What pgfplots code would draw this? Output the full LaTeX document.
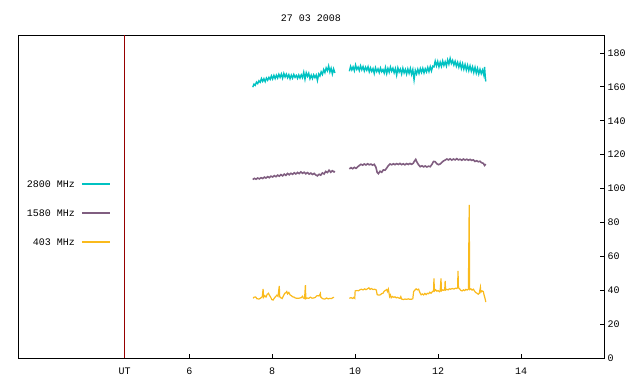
\documentclass[border=0pt]{standalone}
\usepackage{fontspec}
\setmainfont{Liberation Mono}
\usepackage{pgfplots}
\pgfplotsset{compat=1.18}
\definecolor{seriesA}{RGB}{0,194,194}
\definecolor{seriesB}{RGB}{128,94,128}
\definecolor{seriesC}{RGB}{250,186,28}
\definecolor{redc}{RGB}{150,0,0}
\begin{document}
\fontsize{10bp}{12bp}\selectfont
\begin{tikzpicture}
\useasboundingbox (-18bp,-26bp) rectangle (622bp,358bp);
\begin{axis}[
  at={(0,0)}, anchor=south west,
  scale only axis, width=586bp, height=323bp,
  xmin=1.87, xmax=16, ymin=0, ymax=190.6,
  xtick={4.44,6,8,10,12,14}, xticklabels={UT,6,8,10,12,14},
  ytick={0,20,...,180},
  xtick pos=bottom, ytick pos=right, yticklabel pos=right,
  tick align=inside, major tick length=4bp,
  tick style={line width=0.8bp, black},
  axis line style={line width=0.8bp},
  /pgf/number format/assume math mode=true,
  ticklabel style={font=\fontsize{10bp}{12bp}\selectfont},
  xticklabel style={yshift=-6bp},
  title={27 03 2008}, title style={font=\fontsize{10bp}{12bp}\selectfont, yshift=4bp},
  clip=false,
]
\addplot[redc, line width=1bp, forget plot] coordinates {(4.44,0) (4.44,190.6)};

\addplot[seriesA, line width=1.4bp, forget plot] table {
7.53 159.8
7.56 161.6
7.59 160.9
7.62 162.8
7.65 161.9
7.68 163.6
7.71 162.7
7.74 164.9
7.77 163.2
7.80 164.8
7.83 163.1
7.86 165.2
7.89 163.9
7.92 165.6
7.95 164.4
7.98 166.5
8.01 164.6
8.04 166.8
8.07 164.9
8.10 166.9
8.13 165.2
8.16 167.4
8.19 165.6
8.22 167.6
8.25 165.1
8.28 167.9
8.31 165.8
8.34 167.5
8.37 165.4
8.40 167.2
8.43 164.8
8.46 166.9
8.49 165.1
8.52 167.3
8.55 165.6
8.58 166.8
8.61 165.0
8.64 167.0
8.67 165.2
8.70 167.1
8.73 165.4
8.76 168.6
8.79 164.5
8.82 168.3
8.85 166.2
8.88 168.0
8.91 164.8
8.94 166.9
8.97 164.9
9.00 167.1
9.03 165.4
9.06 167.0
9.09 163.8
9.12 167.6
9.15 166.4
9.18 168.9
9.21 167.3
9.24 170.2
9.27 168.4
9.30 171.2
9.33 169.5
9.36 172.3
9.39 168.8
9.42 171.0
9.45 167.6
9.48 170.6
9.51 168.2
};
\addplot[seriesA, line width=1.4bp, forget plot] table {
9.86 169.2
9.89 172.1
9.92 170.0
9.95 171.8
9.98 169.5
10.01 172.9
10.04 170.3
10.07 171.7
10.10 169.6
10.13 172.4
10.16 170.1
10.19 172.0
10.22 169.4
10.25 171.6
10.28 169.8
10.31 171.9
10.34 168.9
10.37 171.2
10.40 169.1
10.43 170.8
10.46 167.9
10.49 171.3
10.52 169.0
10.55 170.6
10.58 168.4
10.61 171.1
10.64 168.9
10.67 170.2
10.70 168.1
10.73 171.4
10.76 167.8
10.79 170.9
10.82 168.6
10.85 171.7
10.88 169.2
10.91 171.0
10.94 168.3
10.97 170.8
11.00 166.9
11.03 171.2
11.06 168.7
11.09 170.5
11.12 167.6
11.15 171.0
11.18 168.2
11.21 170.3
11.24 167.5
11.27 170.6
11.30 168.0
11.33 170.9
11.36 167.4
11.39 170.2
11.42 164.2
11.45 169.8
11.48 167.6
11.51 170.4
11.54 167.9
11.57 170.8
11.60 168.5
11.63 171.0
11.66 168.2
11.69 170.7
11.72 168.8
11.75 171.5
11.78 169.0
11.81 171.9
11.84 169.4
11.87 172.2
11.90 171.8
11.93 175.2
11.96 172.4
11.99 175.0
12.02 171.8
12.05 174.6
12.08 172.1
12.11 175.3
12.14 172.6
12.17 174.8
12.20 172.3
12.23 175.9
12.26 173.4
12.29 176.8
12.32 173.8
12.35 175.6
12.38 172.9
12.41 175.1
12.44 172.2
12.47 174.5
12.50 171.6
12.53 174.2
12.56 170.8
12.59 173.7
12.62 170.4
12.65 173.2
12.68 169.9
12.71 172.8
12.74 169.6
12.77 172.4
12.80 169.3
12.83 171.8
12.86 168.5
12.89 171.5
12.92 168.1
12.95 170.9
12.98 167.6
13.01 170.4
13.04 167.8
13.07 169.9
13.10 167.1
13.12 171.8
13.14 165.0
13.15 163.2
};

\addplot[seriesB, line width=1.6bp, forget plot] table {
7.53 105.3
7.57 106.0
7.61 105.5
7.65 106.2
7.69 105.7
7.73 106.4
7.77 105.9
7.81 106.7
7.85 106.2
7.89 107.0
7.93 106.4
7.97 107.3
8.01 106.8
8.05 107.6
8.09 107.0
8.13 107.9
8.17 107.3
8.21 108.2
8.25 107.5
8.29 108.5
8.33 107.8
8.37 108.9
8.41 108.1
8.45 109.0
8.49 108.4
8.53 109.3
8.57 108.6
8.61 109.5
8.65 108.8
8.69 109.8
8.73 109.0
8.77 109.6
8.81 108.7
8.85 109.4
8.89 108.5
8.93 109.1
8.97 108.3
9.01 108.9
9.05 108.0
9.09 107.5
9.13 108.4
9.17 107.9
9.21 109.2
9.25 108.6
9.29 110.1
9.33 109.4
9.37 110.8
9.41 109.6
9.45 110.5
9.49 109.8
9.51 110.2
};
\addplot[seriesB, line width=1.6bp, forget plot] table {
9.86 111.6
9.90 112.3
9.94 111.7
9.98 112.5
10.02 111.9
10.06 112.8
10.10 113.6
10.14 114.3
10.18 113.8
10.22 114.5
10.26 113.9
10.30 114.6
10.34 114.0
10.38 114.4
10.42 113.8
10.46 114.3
10.50 112.6
10.53 109.5
10.56 108.8
10.60 110.2
10.64 109.6
10.68 111.0
10.72 110.8
10.76 112.1
10.80 113.5
10.84 114.5
10.88 114.0
10.92 114.6
10.96 114.1
11.00 114.7
11.04 114.2
11.08 114.8
11.12 114.1
11.16 114.6
11.20 114.0
11.24 114.7
11.28 114.2
11.32 114.8
11.36 114.3
11.40 114.9
11.43 116.2
11.46 117.2
11.49 115.6
11.53 113.9
11.57 112.9
11.61 113.4
11.65 112.8
11.69 113.3
11.73 112.7
11.77 113.2
11.81 112.9
11.85 114.2
11.89 116.0
11.93 115.8
11.97 114.6
12.01 114.1
12.05 114.5
12.09 115.4
12.13 116.3
12.17 116.8
12.21 117.4
12.25 116.9
12.29 117.5
12.33 116.8
12.37 117.4
12.41 116.9
12.45 117.6
12.49 116.9
12.53 117.3
12.57 116.7
12.61 117.4
12.65 116.8
12.69 117.3
12.73 116.7
12.77 117.2
12.81 116.6
12.85 116.9
12.89 116.0
12.93 116.4
12.97 115.8
13.01 116.1
13.05 115.2
13.09 114.9
13.12 113.6
13.15 114.4
};

\addplot[seriesC, line width=1.2bp, forget plot] table {
7.54 35.2
7.56 35.9
7.60 36.0
7.63 35.0
7.68 34.8
7.72 35.3
7.76 36.2
7.78 40.7
7.79 35.8
7.82 36.8
7.85 36.0
7.88 37.6
7.91 38.2
7.93 37.1
7.96 36.0
7.99 34.5
8.02 34.2
8.05 35.3
8.08 36.2
8.11 37.0
8.14 36.4
8.17 42.5
8.18 36.2
8.21 35.5
8.24 35.1
8.27 36.7
8.30 38.1
8.33 38.6
8.35 39.2
8.37 37.8
8.40 38.7
8.43 37.2
8.46 36.8
8.49 36.1
8.52 36.0
8.55 35.5
8.60 35.2
8.65 35.3
8.70 35.6
8.73 36.4
8.75 35.4
8.78 35.1
8.80 43.0
8.81 35.0
8.84 35.4
8.88 35.2
8.92 35.9
8.96 35.3
9.00 35.4
9.04 35.8
9.07 36.6
9.10 36.8
9.13 36.6
9.16 38.1
9.17 36.0
9.20 35.3
9.23 34.9
9.27 34.8
9.31 35.4
9.35 34.9
9.39 35.2
9.43 35.1
9.47 35.7
9.49 35.8
};
\addplot[seriesC, line width=1.2bp, forget plot] table {
9.86 35.2
9.90 35.6
9.94 35.1
9.97 35.8
9.99 35.3
10.00 39.6
10.04 39.8
10.08 39.7
10.12 40.3
10.15 40.6
10.19 40.2
10.23 40.8
10.26 40.3
10.30 40.9
10.33 41.4
10.36 40.5
10.39 41.0
10.43 40.4
10.47 40.6
10.51 40.1
10.53 37.4
10.57 37.1
10.61 37.3
10.64 38.0
10.67 38.2
10.70 39.4
10.73 39.9
10.76 40.4
10.78 39.2
10.80 40.6
10.83 36.2
10.85 37.2
10.87 35.6
10.90 36.3
10.93 35.8
10.96 36.1
10.99 35.5
11.02 35.8
11.05 35.4
11.08 35.2
11.10 36.2
11.12 34.8
11.16 34.5
11.20 34.8
11.24 34.6
11.28 34.9
11.32 34.6
11.36 34.7
11.39 35.0
11.41 39.2
11.44 40.1
11.47 40.8
11.50 40.2
11.53 40.6
11.56 38.6
11.59 37.3
11.62 37.8
11.65 37.2
11.68 38.1
11.71 37.4
11.74 38.2
11.77 37.9
11.80 38.8
11.83 38.2
11.86 39.1
11.89 39.6
11.90 47.0
11.91 39.5
11.94 40.3
11.97 39.4
12.00 39.8
12.03 39.1
12.05 39.7
12.07 47.0
12.08 39.6
12.11 40.2
12.14 39.9
12.16 40.6
12.17 45.5
12.18 40.1
12.21 40.5
12.24 40.2
12.27 40.8
12.30 40.6
12.34 41.0
12.38 40.7
12.42 41.2
12.45 41.0
12.47 41.6
12.48 51.4
12.49 41.5
12.52 40.8
12.55 39.8
12.58 39.6
12.61 40.2
12.64 39.8
12.67 40.5
12.70 40.1
12.73 40.6
12.75 90.3
12.76 40.4
12.79 40.8
12.82 40.1
12.85 40.6
12.88 39.4
12.91 38.6
12.94 38.2
12.97 37.6
12.99 38.1
13.02 41.7
13.03 38.8
13.06 39.6
13.09 39.2
13.11 37.0
13.13 35.3
13.15 33.0
};
% legend
\draw[seriesA, line width=1.3bp] (rel axis cs:0.1092,0.5387) -- (rel axis cs:0.157,0.5387);
\node[anchor=east, inner sep=0pt] at (rel axis cs:0.0973,0.5387) {2800 MHz};
\draw[seriesB, line width=1.3bp] (rel axis cs:0.1092,0.4489) -- (rel axis cs:0.157,0.4489);
\node[anchor=east, inner sep=0pt] at (rel axis cs:0.0973,0.4489) {1580 MHz};
\draw[seriesC, line width=1.3bp] (rel axis cs:0.1092,0.3591) -- (rel axis cs:0.157,0.3591);
\node[anchor=east, inner sep=0pt] at (rel axis cs:0.0973,0.3591) {403 MHz};
\end{axis}
\end{tikzpicture}
\end{document}
